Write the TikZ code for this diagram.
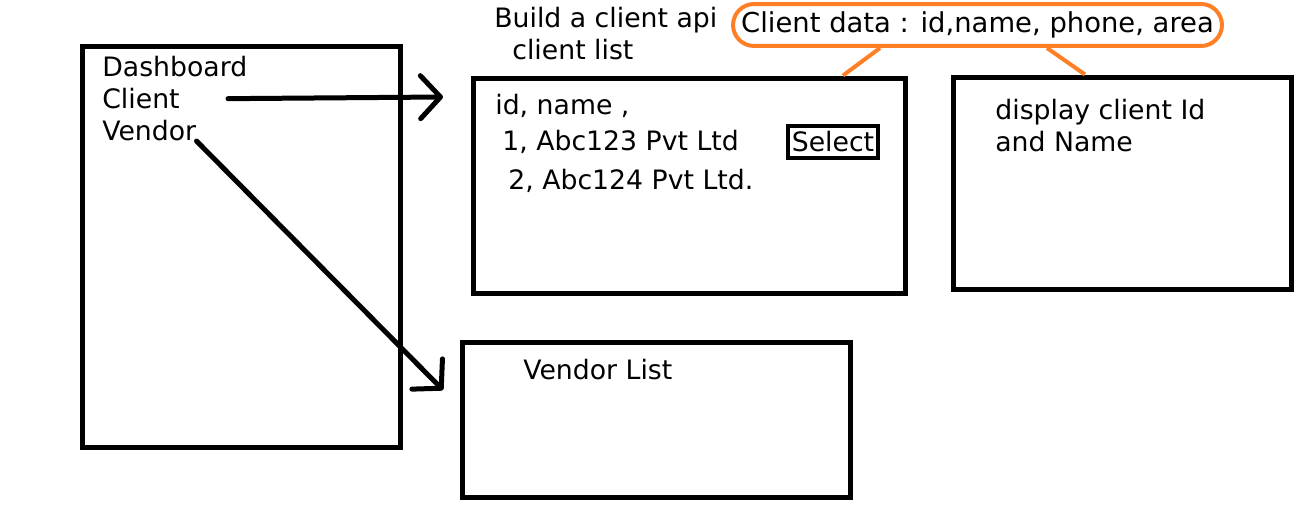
\documentclass[tikz,border=0pt]{standalone}
\usepackage{xcolor}
\usepackage{fontspec}
\setmainfont{DejaVu Sans}
\usepackage{tikz}
\usetikzlibrary{arrows.meta}

\definecolor{paintorange}{RGB}{255,127,39}

\begin{document}
\begin{tikzpicture}[x=0.02cm, y=-0.02cm,
    box/.style={draw, rectangle, line width=0.1cm, inner sep=0},
    lbl/.style={anchor=base west, inner sep=0, font=\fontsize{15.2}{18}\selectfont},
    arr/.style={line width=0.1cm, line cap=round, line join=round,
                -{Straight Barb[length=0.4cm, width=0.86cm, line cap=round, line join=round]}},
    note/.style={draw=paintorange, line width=0.08cm}]
    \useasboundingbox (0,0) rectangle (1310,513);

    % Dashboard menu
    \node[box, minimum width=6.38cm, minimum height=8.04cm] (dash) at (241.5,247) {};
    \node[lbl] (dashlbl) at (102,77) {Dashboard};
    \node[lbl] (client) at (102,109) {Client};
    \node[lbl] (vendor) at (102,141) {Vendor};

    % Client list
    \node[box, minimum width=8.66cm, minimum height=4.32cm] (clist) at (689.5,186) {};
    \node[lbl] (build) at (494,28) {Build a client api};
    \node[lbl] (buildb) at (512,60) {client list};
    \node[lbl] (head) at (495,115) {id, name ,};
    \node[lbl] (row1) at (502,151) {1, Abc123 Pvt Ltd};
    \node[lbl] (row2) at (508,190) {2, Abc124 Pvt Ltd.};
    \node[draw, rectangle, line width=0.08cm, inner sep=0, minimum width=1.8cm,
          minimum height=0.64cm, font=\fontsize{15.2}{18}\selectfont] (select) at (833,142) {Select};

    % Client details
    \node[box, minimum width=6.78cm, minimum height=4.26cm] (disp) at (1122.5,183.5) {};
    \node[lbl] (disp1) at (995,120) {display client Id};
    \node[lbl] (disp2) at (995,152) {and Name};

    % Client data note
    \node[note, rounded corners=0.42cm, minimum width=9.78cm, minimum height=0.84cm,
          font=\fontsize{15.6}{18}\selectfont] (bubble) at (977.5,25) {Client data : id,name, phone, area};
    \draw[note] ([xshift=-1.95cm]bubble.south) -- ([xshift=3.07cm]clist.north);
    \draw[note] ([xshift=1.39cm]bubble.south) -- ([xshift=-0.75cm]disp.north);

    % Vendor list
    \node[box, minimum width=7.78cm, minimum height=3.12cm] (vlist) at (656.5,420) {};
    \node[lbl] (vlbl) at (523,379) {Vendor List};

    % Arrows
    \coordinate (cltip) at (443,97);
    \coordinate (vltip) at (443,390);
    \draw[arr, shorten <=0.96cm] (client.east) -- (cltip);
    \draw[arr] (vendor.base east) -- (vltip);
\end{tikzpicture}
\end{document}
